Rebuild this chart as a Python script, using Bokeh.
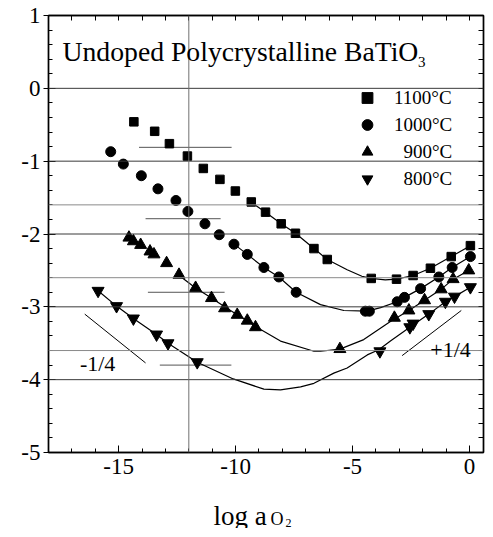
from bokeh.plotting import figure
from bokeh.models import Span, Label, Legend, LegendItem, LinearAxis, FixedTicker, Range1d
from bokeh.layouts import column
from bokeh.embed import file_html
from bokeh.resources import INLINE

# ---- data ----
x1100 = [-14.35, -13.46, -12.83, -12.06, -11.38, -10.67, -10.01, -9.33, -8.72, -8.05, -7.44, -6.65, -6.08,
         -4.20, -3.12, -2.41, -1.67, -0.78, 0.04]
y1100 = [-0.46, -0.59, -0.76, -0.93, -1.10, -1.25, -1.41, -1.56, -1.70, -1.86, -1.99, -2.20, -2.35,
         -2.61, -2.62, -2.57, -2.47, -2.31, -2.16]

x1000 = [-15.34, -14.80, -14.03, -13.32, -12.55, -12.04, -11.31, -10.70, -10.07, -9.50, -8.79, -8.15, -7.41,
         -4.45, -4.28, -3.09, -2.78, -2.09, -1.31, -0.74, 0.04]
y1000 = [-0.87, -1.04, -1.20, -1.38, -1.54, -1.69, -1.86, -2.01, -2.14, -2.28, -2.46, -2.59, -2.80,
         -3.06, -3.06, -2.93, -2.87, -2.75, -2.59, -2.46, -2.31]

x900 = [-14.56, -14.37, -14.06, -13.66, -13.49, -12.95, -12.42, -11.71, -11.03, -10.47, -9.93, -9.50, -9.15,
        -5.54, -3.21, -2.59, -1.92, -1.21, -0.70, -0.03]
y900 = [-2.05, -2.10, -2.15, -2.24, -2.28, -2.40, -2.56, -2.74, -2.88, -3.02, -3.11, -3.19, -3.28,
        -3.58, -3.15, -3.05, -2.91, -2.76, -2.62, -2.50]

x800 = [-15.88, -15.09, -14.37, -13.38, -12.89, -11.64, -3.83, -2.55, -2.41, -1.74, -1.03, -0.64, 0.04]
y800 = [-2.78, -2.99, -3.16, -3.38, -3.50, -3.76, -3.61, -3.28, -3.23, -3.10, -2.93, -2.86, -2.73]

# fitted curves
fit1100_x = [-9.40, -8.72, -8.05, -7.44, -6.65, -6.08, -5.23, -4.60, -4.20, -3.60, -3.12, -2.41, -1.67, -0.78, 0.04]
fit1100_y = [-1.55, -1.70, -1.86, -1.99, -2.20, -2.35, -2.49, -2.58, -2.61, -2.63, -2.62, -2.57, -2.47, -2.31, -2.16]

fit1000_x = [-9.90, -9.50, -8.79, -8.15, -7.41, -6.37, -5.37, -4.37, -3.80, -3.09, -2.78, -2.09, -1.31, -0.74, 0.04]
fit1000_y = [-2.18, -2.28, -2.46, -2.59, -2.80, -2.97, -3.05, -3.06, -3.01, -2.93, -2.87, -2.75, -2.59, -2.46, -2.31]

fit900_x = [-12.50, -11.71, -11.03, -10.47, -9.93, -9.50, -9.15, -8.08, -6.65, -6.37, -5.54, -4.52, -3.38,
            -2.59, -1.92, -1.21, -0.70, -0.03]
fit900_y = [-2.55, -2.74, -2.88, -3.00, -3.11, -3.19, -3.27, -3.47, -3.61, -3.61, -3.58, -3.45, -3.20,
            -3.05, -2.91, -2.76, -2.62, -2.50]

fit800_x = [-15.88, -15.09, -14.37, -13.38, -12.89, -11.64, -10.10, -8.79, -8.08, -7.22, -6.65, -5.80, -5.23,
            -4.37, -3.88, -3.38, -2.55, -1.74, -1.03, -0.64, 0.04]
fit800_y = [-2.78, -2.99, -3.16, -3.38, -3.50, -3.76, -3.99, -4.13, -4.14, -4.10, -4.05, -3.91, -3.84,
            -3.66, -3.59, -3.47, -3.28, -3.10, -2.93, -2.86, -2.73]

# slope guide lines
minus_x = [-16.45, -13.85]
minus_y = [-3.10, -3.77]
plus_x = [-2.88, -0.35]
plus_y = [-3.67, -3.05]

# short horizontal bars
seg_x0 = [-14.13, -13.85, -13.75, -13.24]
seg_x1 = [-10.17, -10.64, -10.47, -10.18]
seg_y = [-0.81, -1.79, -2.80, -3.80]

dark_lines = [0, -1, -2, -3, -4]
gray_lines = [-1.6, -2.6, -3.6]
v_lines = [-12]

x_ticks = [-15, -10, -5, 0]
x_tick_labels = ["-15", "-10", "-5", "0"]
x_minor = list(range(-18, 1))
y_ticks = [1, 0, -1, -2, -3, -4, -5]
y_tick_labels = ["1", "0", "-1", "-2", "-3", "-4", "-5"]
y_minor = [i / 5 for i in range(-25, 6)]

labels = ["1100°C", "1000°C", "\u2007900°C", "\u2007800°C"]

FONT = "Liberation Serif"

p = figure(frame_width=435, frame_height=437, x_range=(-18, 0.6), y_range=(-5, 1),
           output_backend="svg", toolbar_location=None, title=None,
           min_border_left=48, min_border_right=2, min_border_top=15, min_border_bottom=38)
p.background_fill_color = "white"
p.border_fill_color = "white"
p.xgrid.visible = False
p.ygrid.visible = False
p.outline_line_color = "black"
p.outline_line_width = 1.4

xb = p.xaxis[0]
yl = p.yaxis[0]

# reference lines
for v in dark_lines:
    p.add_layout(Span(location=v, dimension="width", line_color="#3a3a3a", line_width=1))
for v in gray_lines:
    p.add_layout(Span(location=v, dimension="width", line_color="#8a8a8a", line_width=1))
for v in v_lines:
    p.add_layout(Span(location=v, dimension="height", line_color="#707070", line_width=1))

p.segment(x0=seg_x0, x1=seg_x1, y0=seg_y, y1=seg_y, line_color="#555555", line_width=1)

# fitted curves
for fx, fy in [(fit1100_x, fit1100_y), (fit1000_x, fit1000_y), (fit900_x, fit900_y), (fit800_x, fit800_y)]:
    p.line(fx, fy, line_color="black", line_width=1.2)

p.line(minus_x, minus_y, line_color="black", line_width=1)
p.line(plus_x, plus_y, line_color="black", line_width=1)

r1 = p.scatter(x1100, y1100, marker="square", size=8.5, fill_color="black", line_color="black")
r2 = p.scatter(x1000, y1000, marker="circle", size=10, fill_color="black", line_color="black")
r3 = p.scatter(x900, y900, marker="triangle", size=12, fill_color="black", line_color="black")
r4 = p.scatter(x800, y800, marker="inverted_triangle", size=12, fill_color="black", line_color="black")

legend = Legend(items=[LegendItem(label=labels[0], renderers=[r1]),
                       LegendItem(label=labels[1], renderers=[r2]),
                       LegendItem(label=labels[2], renderers=[r3]),
                       LegendItem(label=labels[3], renderers=[r4])],
                location=(304, 260), padding=0, margin=0, spacing=0,
                glyph_width=30, glyph_height=27, label_height=27, label_standoff=12,
                label_text_font=FONT, label_text_font_size="19px", label_text_color="black",
                background_fill_alpha=0, border_line_alpha=0)
p.add_layout(legend, "center")

# axes
xb.ticker = FixedTicker(ticks=x_ticks, minor_ticks=x_minor)
xb.major_label_overrides = dict(zip(x_ticks, x_tick_labels))
yl.ticker = FixedTicker(ticks=y_ticks, minor_ticks=y_minor)
yl.major_label_overrides = dict(zip(y_ticks, y_tick_labels))

top = LinearAxis(ticker=FixedTicker(ticks=[], minor_ticks=x_minor))
right = LinearAxis(ticker=FixedTicker(ticks=[], minor_ticks=y_minor))
p.add_layout(top, "above")
p.add_layout(right, "right")

for ax in (xb, yl, top, right):
    ax.axis_line_color = "black"
    ax.axis_line_width = 1.4
    ax.major_tick_line_color = "black"
    ax.minor_tick_line_color = "black"
    ax.major_tick_in = 7
    ax.major_tick_out = 0
    ax.minor_tick_in = 4
    ax.minor_tick_out = 0
    ax.major_label_text_font = FONT
    ax.major_label_text_color = "black"
    ax.major_label_standoff = 0
    ax.axis_label_standoff = 0

for ax in (top, right):
    ax.minor_tick_in = 5

xb.major_label_text_font_size = "23px"
xb.major_label_standoff = 6
yl.major_label_text_font_size = "23px"
yl.major_tick_out = 5
yl.major_label_standoff = 3

# texts inside the frame
p.add_layout(Label(x=-17.4, y=0.505, text="Undoped Polycrystalline BaTiO", text_font=FONT,
                   text_font_size="27.7px", text_baseline="alphabetic", text_color="black"))
p.add_layout(Label(x=-2.2, y=0.355, text="3", text_font=FONT,
                   text_font_size="15px", text_baseline="alphabetic", text_color="black"))
p.add_layout(Label(x=-15.9, y=-3.78, text="-1/4", text_font=FONT, text_font_size="22px",
                   text_align="center", text_baseline="middle", text_color="black"))
p.add_layout(Label(x=-0.81, y=-3.59, text="+1/4", text_font=FONT, text_font_size="22px",
                   text_align="center", text_baseline="middle", text_color="black"))

# x-axis title strip
p2 = figure(frame_width=435, frame_height=38, x_range=p.x_range, y_range=Range1d(0, 38),
            output_backend="svg", toolbar_location=None, title=None,
            x_axis_location=None, y_axis_location=None,
            min_border_left=48, min_border_right=2, min_border_top=0, min_border_bottom=0)
p2.xgrid.visible = False
p2.ygrid.visible = False
p2.outline_line_color = None
p2.add_layout(Label(x=-10.94, y=13, text="log a", text_font=FONT, text_font_size="27px",
                    text_baseline="alphabetic", text_color="black"))
p2.add_layout(Label(x=-8.51, y=10, text="O", text_font=FONT, text_font_size="18px",
                    text_baseline="alphabetic", text_color="black"))
p2.add_layout(Label(x=-7.87, y=6, text="2", text_font=FONT, text_font_size="12px",
                    text_baseline="alphabetic", text_color="black"))

layout = column(p, p2, spacing=0)
open("out.html", "w").write(file_html(layout, INLINE))
